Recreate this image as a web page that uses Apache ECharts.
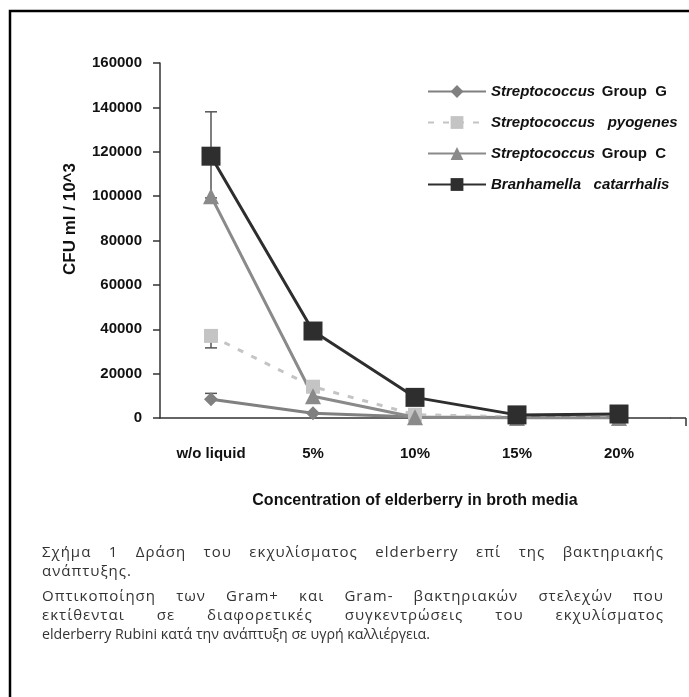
<!DOCTYPE html>
<html><head><meta charset="utf-8">
<script src="https://cdn.jsdelivr.net/npm/echarts@6/dist/echarts.min.js"></script>
<style>
html,body{margin:0;padding:0;background:#fff;}
#c{position:absolute;left:0;top:0;width:689px;height:697px;}
.cl{position:absolute;left:42px;width:622px;font-family:"Open Sans","Noto Sans",sans-serif;font-size:15px;line-height:19px;color:#333;white-space:nowrap;}
.j{text-align:justify;text-align-last:justify;letter-spacing:1px;}
.s{letter-spacing:1px;}
.l5{font-size:14.2px;}
</style></head>
<body>
<div id="c"></div>
<div id="cap">
<div class="cl j" style="top:542px">Σχήμα 1 Δράση του εκχυλίσματος elderberry επί της βακτηριακής</div>
<div class="cl s" style="top:561px">ανάπτυξης.</div>
<div class="cl j" style="top:586px">Οπτικοποίηση των Gram+ και Gram- βακτηριακών στελεχών που</div>
<div class="cl j" style="top:605px">εκτίθενται σε διαφορετικές συγκεντρώσεις του εκχυλίσματος</div>
<div class="cl l5" style="top:624px">elderberry Rubini κατά την ανάπτυξη σε υγρή καλλιέργεια.</div>
</div>
<script>
const categories = ['w/o liquid', '5%', '10%', '15%', '20%'];
const groupG = [8500, 2100, 500, 200, 300];
const pyogenes = [37000, 14100, 1500, 500, 500];
const groupC = [100000, 9800, 300, 0, 0];
const branhamella = [118000, 39200, 9300, 1400, 1800];
// error bars: [categoryIndex, value, minus, plus]
const errGroupG = [[0, 8500, 0, 2600]];
const errPyogenes = [[0, 37000, 5400, 0]];
const errBranhamella = [[0, 118000, 18800, 20000]];
const yTicks = [0, 20000, 40000, 60000, 80000, 100000, 120000, 140000, 160000];

const chart = echarts.init(document.getElementById('c'));
const sans = '"Liberation Sans",Arial,sans-serif';

function errSeries(data, z) {
  return {
    type: 'custom', z: z, silent: true,
    renderItem: function (params, api) {
      const x = api.value(0), v = api.value(1), lo = api.value(2), hi = api.value(3);
      const pc = api.coord([x, v]);
      const children = [];
      const cap = 6;
      if (hi > 0) {
        const p = api.coord([x, v + hi]);
        children.push({type: 'line', shape: {x1: pc[0], y1: pc[1], x2: p[0], y2: p[1]}, style: {stroke: '#555', lineWidth: 1.5}});
        children.push({type: 'line', shape: {x1: p[0] - cap, y1: p[1], x2: p[0] + cap, y2: p[1]}, style: {stroke: '#555', lineWidth: 1.5}});
      }
      if (lo > 0) {
        const p = api.coord([x, v - lo]);
        children.push({type: 'line', shape: {x1: pc[0], y1: pc[1], x2: p[0], y2: p[1]}, style: {stroke: '#555', lineWidth: 1.5}});
        children.push({type: 'line', shape: {x1: p[0] - cap, y1: p[1], x2: p[0] + cap, y2: p[1]}, style: {stroke: '#555', lineWidth: 1.5}});
      }
      return {type: 'group', children: children};
    },
    data: data
  };
}

const legendRich = {
  it: {fontFamily: sans, fontStyle: 'italic', fontWeight: 'bold', fontSize: 15, color: '#111'},
  n: {fontFamily: sans, fontWeight: 'bold', fontSize: 15, color: '#111'}
};
const legendNames = {
  'Streptococcus Group G': '{it|Streptococcus}  {n|Group  G}',
  'Streptococcus pyogenes': '{it|Streptococcus   pyogenes}',
  'Streptococcus Group C': '{it|Streptococcus}  {n|Group  C}',
  'Branhamella catarrhalis': '{it|Branhamella   catarrhalis}'
};

chart.setOption({
  animation: false,
  backgroundColor: '#fff',
  grid: {left: 160, right: 19, top: 63, bottom: 279, containLabel: false},
  legend: {
    orient: 'vertical', left: 427, top: 84, padding: 0, itemWidth: 58, itemHeight: 16, itemGap: 16,
    formatter: function (n) { return legendNames[n]; },
    textStyle: {rich: legendRich},
    data: ['Streptococcus Group G', 'Streptococcus pyogenes', 'Streptococcus Group C', 'Branhamella catarrhalis']
  },
  xAxis: {
    type: 'category', data: categories, boundaryGap: true,
    axisLine: {lineStyle: {color: '#333', width: 1.5}},
    axisTick: {length: 8, inside: false, lineStyle: {color: '#333', width: 1.5}},
    axisLabel: {margin: 28, fontFamily: sans, fontWeight: 'bold', fontSize: 15, color: '#111'},
    name: 'Concentration of elderberry in broth media', nameLocation: 'middle', nameGap: 75,
    nameTextStyle: {fontFamily: sans, fontWeight: 'bold', fontSize: 16, color: '#111'}
  },
  yAxis: {
    type: 'value', min: 0, max: 160000, interval: 20000,
    splitLine: {show: false},
    axisLine: {show: true, lineStyle: {color: '#333', width: 1.5}},
    axisTick: {show: true, length: 7, lineStyle: {color: '#333', width: 1.5}},
    axisLabel: {margin: 18, fontFamily: sans, fontWeight: 'bold', fontSize: 15, color: '#111',
      formatter: function (v) { return yTicks.indexOf(v) >= 0 ? String(v) : ''; }}
  },
  graphic: [
    {type: 'rect', shape: {x: 10, y: 11, width: 700, height: 720}, style: {fill: 'none', stroke: '#000', lineWidth: 2.5}, z: 100},
    {type: 'line', shape: {x1: 670, y1: 418, x2: 686, y2: 418}, style: {stroke: '#333', lineWidth: 1.5}},
    {type: 'line', shape: {x1: 686, y1: 418, x2: 686, y2: 426}, style: {stroke: '#333', lineWidth: 1.5}},
    {type: 'text', x: 70, y: 219, rotation: Math.PI / 2, style: {text: 'CFU ml / 10^3', font: 'bold 17px ' + sans, fill: '#111', textAlign: 'center', textVerticalAlign: 'middle'}}
  ],
  series: [
    errSeries(errGroupG, 1),
    errSeries(errPyogenes, 1),
    errSeries(errBranhamella, 1),
    {name: 'Streptococcus Group G', type: 'line', data: groupG, z: 3, symbol: 'diamond', symbolSize: 14,
      lineStyle: {color: '#808080', width: 3}, itemStyle: {color: '#808080'}},
    {name: 'Streptococcus pyogenes', type: 'line', data: pyogenes, z: 3, symbol: 'rect', symbolSize: 14,
      lineStyle: {color: '#c4c4c4', width: 3, type: [6, 9]}, itemStyle: {color: '#c4c4c4'}},
    {name: 'Streptococcus Group C', type: 'line', data: groupC, z: 3, symbol: 'triangle', symbolSize: 16,
      lineStyle: {color: '#8a8a8a', width: 3}, itemStyle: {color: '#8a8a8a'}},
    {name: 'Branhamella catarrhalis', type: 'line', data: branhamella, z: 4, symbol: 'rect', symbolSize: 19,
      lineStyle: {color: '#2e2e2e', width: 3}, itemStyle: {color: '#2e2e2e'}}
  ]
});
</script>
</body></html>
